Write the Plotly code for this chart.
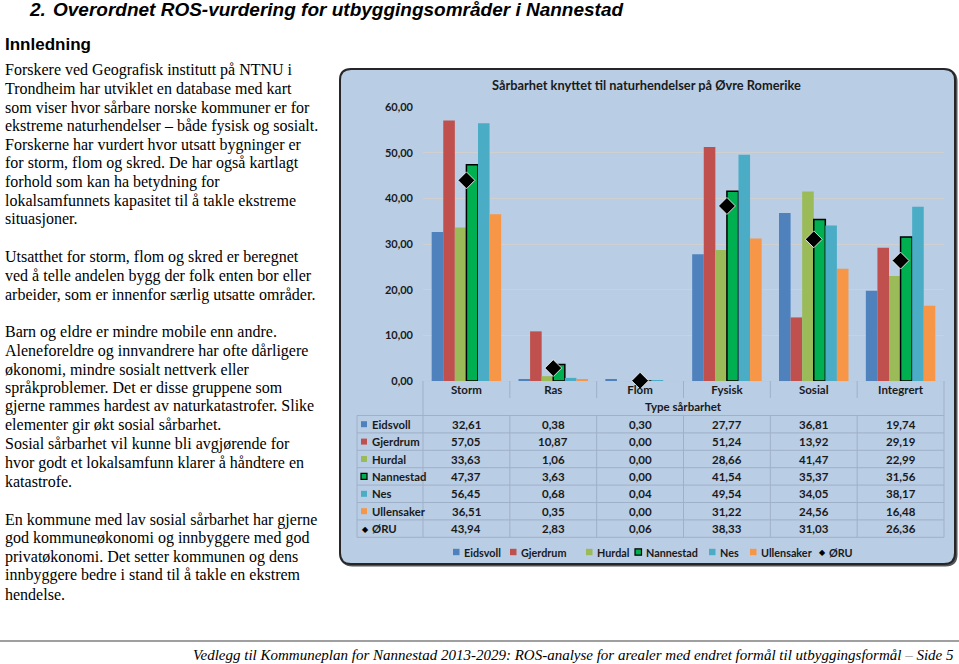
import plotly.graph_objects as go

W, H = 959, 664

categories = ["Storm", "Ras", "Flom", "Fysisk", "Sosial", "Integrert"]
series_names = ["Eidsvoll", "Gjerdrum", "Hurdal", "Nannestad", "Nes", "Ullensaker"]
eidsvoll = [32.61, 0.38, 0.30, 27.77, 36.81, 19.74]
gjerdrum = [57.05, 10.87, 0.00, 51.24, 13.92, 29.19]
hurdal = [33.63, 1.06, 0.00, 28.66, 41.47, 22.99]
nannestad = [47.37, 3.63, 0.00, 41.54, 35.37, 31.56]
nes = [56.45, 0.68, 0.04, 49.54, 34.05, 38.17]
ullensaker = [36.51, 0.35, 0.00, 31.22, 24.56, 16.48]
oru_name = "ØRU"
oru = [43.94, 2.83, 0.06, 38.33, 31.03, 26.36]
y_ticks = [0, 10, 20, 30, 40, 50, 60]

series_values = [eidsvoll, gjerdrum, hurdal, nannestad, nes, ullensaker]
colors = ["#4F81BD", "#C0504D", "#9BBB59", "#00B050", "#4BACC6", "#F79646"]

chart_title = "Sårbarhet knyttet til naturhendelser på Øvre Romerike"
x_title = "Type sårbarhet"

heading_num = "2."
heading = "Overordnet ROS-vurdering for utbyggingsområder i Nannestad"
subheading = "Innledning"
body_lines = [
    (70, "Forskere ved Geografisk institutt på NTNU i"),
    (88.5, "Trondheim har utviklet en database med kart"),
    (107, "som viser hvor sårbare norske kommuner er for"),
    (126, "ekstreme naturhendelser – både fysisk og sosialt."),
    (144.5, "Forskerne har vurdert hvor utsatt bygninger er"),
    (163, "for storm, flom og skred. De har også kartlagt"),
    (182, "forhold som kan ha betydning for"),
    (200.5, "lokalsamfunnets kapasitet til å takle ekstreme"),
    (219, "situasjoner."),
    (257, "Utsatthet for storm, flom og skred er beregnet"),
    (276, "ved å telle andelen bygg der folk enten bor eller"),
    (294.5, "arbeider, som er innenfor særlig utsatte områder."),
    (332, "Barn og eldre er mindre mobile enn andre."),
    (351, "Aleneforeldre og innvandrere har ofte dårligere"),
    (369.5, "økonomi, mindre sosialt nettverk eller"),
    (388, "språkproblemer. Det er disse gruppene som"),
    (406.5, "gjerne rammes hardest av naturkatastrofer. Slike"),
    (425, "elementer gir økt sosial sårbarhet."),
    (444, "Sosial sårbarhet vil kunne bli avgjørende for"),
    (462.5, "hvor godt et lokalsamfunn klarer å håndtere en"),
    (481, "katastrofe."),
    (519.5, "En kommune med lav sosial sårbarhet har gjerne"),
    (538, "god kommuneøkonomi og innbyggere med god"),
    (556.5, "privatøkonomi. Det setter kommunen og dens"),
    (575, "innbyggere bedre i stand til å takle en ekstrem"),
    (594, "hendelse."),
]
footer_text = "Vedlegg til Kommuneplan for Nannestad 2013-2029: ROS-analyse for arealer med endret formål til utbyggingsformål"
footer_page = "Side 5"


def px(x):
    return x / W


def py(y):
    return 1 - y / H


def fmt(v):
    return f"{v:.2f}".replace(".", ",")


CH_FONT = "Lato, 'Open Sans', sans-serif"
TXT = "#1a1a1a"
PANEL = "#B9CDE5"
GRIDC = "#9fb1c8"

# plot area in pixels
PL, PR, PT, PB = 423, 944, 107, 381

fig = go.Figure()
for name, vals, col in zip(series_names, series_values, colors):
    fig.add_trace(go.Bar(
        x=categories, y=vals, name=name,
        marker=dict(color=col,
                    line=dict(color="black" if name == "Nannestad" else col,
                              width=1.5 if name == "Nannestad" else 0)),
    ))
fig.add_trace(go.Scatter(
    x=categories, y=oru, name=oru_name, mode="markers", cliponaxis=False,
    marker=dict(symbol="diamond", size=13, color="black",
                line=dict(color="white", width=0.8)),
))

shapes = []
annotations = []

# Panel with rounded corners (slight shadow on right/bottom)
L, R, T, B, r = 340, 955, 69, 564, 11


def rounded(L, R, T, B, r):
    pts = [
        f"M{px(L + r)},{py(T)}", f"L{px(R - r)},{py(T)}",
        f"Q{px(R)},{py(T)} {px(R)},{py(T + r)}", f"L{px(R)},{py(B - r)}",
        f"Q{px(R)},{py(B)} {px(R - r)},{py(B)}", f"L{px(L + r)},{py(B)}",
        f"Q{px(L)},{py(B)} {px(L)},{py(B - r)}", f"L{px(L)},{py(T + r)}",
        f"Q{px(L)},{py(T)} {px(L + r)},{py(T)}", "Z",
    ]
    return " ".join(pts)


shapes.append(dict(type="path", xref="paper", yref="paper", path=rounded(L + 1.5, R + 1.5, T + 1.5, B + 1.5, r),
                   fillcolor="#555555", line=dict(color="#555555", width=2), layer="below"))
shapes.append(dict(type="path", xref="paper", yref="paper", path=rounded(L, R, T, B, r),
                   fillcolor=PANEL, line=dict(color="#262626", width=2), layer="below"))

# Table geometry
TL = 357
row_top = 415.5
row_h = 17.4
n_rows = len(series_names) + 1
table_bottom = row_top + row_h * n_rows

# horizontal table lines
for i in range(n_rows + 1):
    yy = row_top + i * row_h
    shapes.append(dict(type="line", xref="paper", yref="paper",
                       x0=px(TL), x1=px(PR), y0=py(yy), y1=py(yy),
                       line=dict(color=GRIDC, width=1), layer="above"))
# vertical table lines: left border, label column, right border
shapes.append(dict(type="line", xref="paper", yref="paper", x0=px(TL), x1=px(TL),
                   y0=py(row_top), y1=py(table_bottom), line=dict(color=GRIDC, width=1)))
shapes.append(dict(type="line", xref="paper", yref="paper", x0=px(PL), x1=px(PL),
                   y0=py(PB), y1=py(table_bottom), line=dict(color=GRIDC, width=1)))
shapes.append(dict(type="line", xref="paper", yref="paper", x0=px(PR), x1=px(PR),
                   y0=py(PB), y1=py(table_bottom), line=dict(color=GRIDC, width=1)))
# category separators (through axis scale)
for k in range(len(categories) - 1):
    xb = k + 0.5
    shapes.append(dict(type="line", xref="x", yref="paper", x0=xb, x1=xb,
                       y0=py(PB), y1=py(398), line=dict(color=GRIDC, width=1)))
    shapes.append(dict(type="line", xref="x", yref="paper", x0=xb, x1=xb,
                       y0=py(row_top), y1=py(table_bottom), line=dict(color=GRIDC, width=1)))

# table contents
all_names = series_names + [oru_name]
all_vals = series_values + [oru]
all_cols = colors + ["black"]
for i, (name, vals, col) in enumerate(zip(all_names, all_vals, all_cols)):
    yc = row_top + row_h * (i + 0.5)
    if name == oru_name:
        annotations.append(dict(x=px(360), y=py(yc), xref="paper", yref="paper",
                                text="◆", showarrow=False, xanchor="left", yanchor="middle",
                                font=dict(family=CH_FONT, size=8, color="black")))
    else:
        shapes.append(dict(type="rect", xref="paper", yref="paper",
                           x0=px(361), x1=px(367), y0=py(yc - 3), y1=py(yc + 3),
                           fillcolor=col,
                           line=dict(color="black" if name == "Nannestad" else col,
                                     width=1.2 if name == "Nannestad" else 0)))
    annotations.append(dict(x=px(369.5), y=py(yc), xref="paper", yref="paper",
                            text=f"<b>{name}</b>", showarrow=False, xanchor="left",
                            yanchor="middle", font=dict(family=CH_FONT, size=11.3, color=TXT)))
    for c, v in zip(categories, vals):
        annotations.append(dict(x=c, y=py(yc), xref="x", yref="paper",
                                text=f"<b>{fmt(v)}</b>", showarrow=False,
                                xanchor="center", yanchor="middle",
                                font=dict(family=CH_FONT, size=11.5, color=TXT)))

# legend (manual, compact)
leg_y = 552
leg_x = [453, 510, 586, 635, 709, 750, 818]
for name, col, lx in zip(all_names, all_cols, leg_x):
    if name == oru_name:
        annotations.append(dict(x=px(lx - 1), y=py(leg_y), xref="paper", yref="paper",
                                text="◆", showarrow=False, xanchor="left", yanchor="middle",
                                font=dict(family=CH_FONT, size=8, color="black")))
    else:
        shapes.append(dict(type="rect", xref="paper", yref="paper",
                           x0=px(lx), x1=px(lx + 6.5), y0=py(leg_y - 3.2), y1=py(leg_y + 3.2),
                           fillcolor=col,
                           line=dict(color="black" if name == "Nannestad" else col,
                                     width=1.2 if name == "Nannestad" else 0)))
    annotations.append(dict(x=px(lx + 8.5), y=py(leg_y), xref="paper", yref="paper",
                            text=f"<b>{name}</b>", showarrow=False, xanchor="left",
                            yanchor="middle", font=dict(family=CH_FONT, size=10.8, color=TXT)))

# chart title
annotations.append(dict(x=px(646), y=py(85), xref="paper", yref="paper",
                        text=f"<b>{chart_title}</b>", showarrow=False,
                        xanchor="center", yanchor="middle",
                        font=dict(family=CH_FONT, size=12.8, color=TXT)))
# x title
annotations.append(dict(x=px((PL + PR) / 2), y=py(406), xref="paper", yref="paper",
                        text=f"<b>{x_title}</b>", showarrow=False,
                        xanchor="center", yanchor="middle",
                        font=dict(family=CH_FONT, size=11.5, color=TXT)))

# page text
annotations.append(dict(x=px(27), y=py(10), xref="paper", yref="paper",
                        text=f"<b><i>{heading_num}</i></b>", showarrow=False,
                        xanchor="left", yanchor="middle",
                        font=dict(family="Liberation Sans, Arial", size=19, color="black")))
annotations.append(dict(x=px(51), y=py(10), xref="paper", yref="paper",
                        text=f"<b><i>{heading}</i></b>", showarrow=False,
                        xanchor="left", yanchor="middle",
                        font=dict(family="Liberation Sans, Arial", size=19, color="black")))
annotations.append(dict(x=px(3), y=py(45), xref="paper", yref="paper",
                        text=f"<b>{subheading}</b>", showarrow=False,
                        xanchor="left", yanchor="middle",
                        font=dict(family="Liberation Sans, Arial", size=17, color="black")))
for yy, line in body_lines:
    annotations.append(dict(x=px(3), y=py(yy), xref="paper", yref="paper",
                            text=line, showarrow=False, xanchor="left", yanchor="middle",
                            font=dict(family="Liberation Serif, Times New Roman", size=16,
                                      color="black")))

# footer
shapes.append(dict(type="line", xref="paper", yref="paper", x0=0, x1=1,
                   y0=py(641), y1=py(641), line=dict(color="#7f7f7f", width=1.5)))
annotations.append(dict(
    x=px(956), y=py(655), xref="paper", yref="paper",
    text=f"<i>{footer_text} <span style='color:#999999'>–</span> {footer_page}</i>",
    showarrow=False, xanchor="right", yanchor="middle",
    font=dict(family="Liberation Serif, Times New Roman", size=15, color="black")))

fig.update_layout(
    width=W, height=H, autosize=False,
    margin=dict(l=0, r=0, t=0, b=0, pad=0, autoexpand=False),
    paper_bgcolor="white", plot_bgcolor="white",
    barmode="group", bargap=0.2, bargroupgap=0,
    showlegend=False,
    separators=",.",
    shapes=shapes, annotations=annotations,
    xaxis=dict(domain=[px(PL), px(PR)], type="category", showgrid=False,
               automargin=False,
               showline=False, ticks="", zeroline=False,
               tickfont=dict(family=CH_FONT, size=11.5, color=TXT, weight="bold")),
    yaxis=dict(domain=[py(PB), py(PT)], range=[0, 60], tickvals=y_ticks,
               automargin=False,
               tickformat=".2f", showgrid=True, gridcolor="#d0d0d0", gridwidth=1,
               zeroline=True, zerolinecolor="#c8c8c8", zerolinewidth=1,
               showline=False, ticks="", ticklabelstandoff=9,
               tickfont=dict(family=CH_FONT, size=11, color=TXT, weight="bold")),
)

post = ("document.body.style.margin='0';document.body.style.padding='0';"
        "var gd=document.getElementById('{plot_id}');"
        "gd.style.position='absolute';gd.style.left='0px';gd.style.top='0px';")
fig.write_html("out.html", post_script=post, config={"displayModeBar": False})
